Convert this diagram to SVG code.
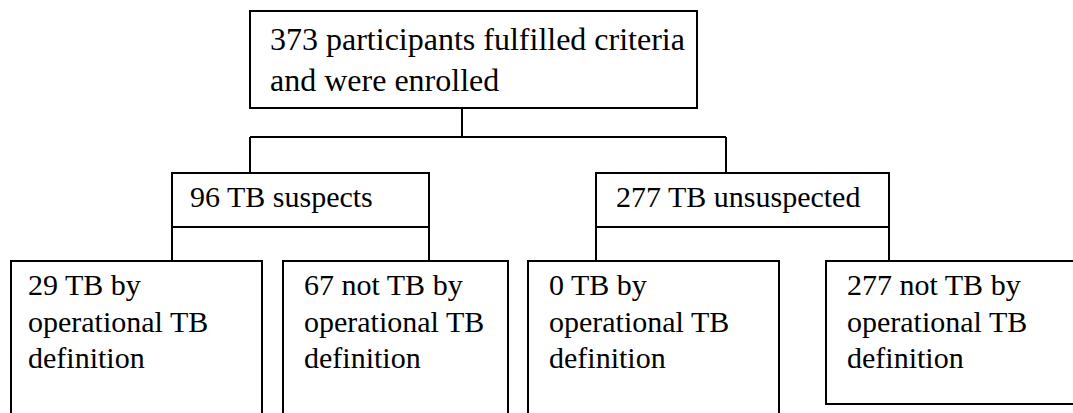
<svg xmlns="http://www.w3.org/2000/svg" width="1073" height="413" viewBox="0 0 1073 413">
<style>
.box{fill:none;stroke:#000;stroke-width:2}
.ln{fill:none;stroke:#000;stroke-width:2}
.t{font-family:"Liberation Serif","Times New Roman",serif;fill:#000;font-size:30px}
.tl{font-family:"Liberation Serif","Times New Roman",serif;fill:#000;font-size:32px}
</style>
<rect width="1073" height="413" fill="#fff"/>
<g id="connectors">
<path class="ln" d="M462,108 V137 M250,137 H726 M250,137 V173 M726,137 V173"/>
<path class="ln" d="M172,227 V261 M429,227 V261 M596,227 V261 M889,227 V261"/>
</g>
<g id="n-enrolled">
<rect class="box" x="250" y="11" width="447" height="97"/>
<text class="tl" x="270" y="50">373 participants fulfilled criteria</text>
<text class="tl" x="270" y="91">and were enrolled</text>
</g>
<g id="n-suspects">
<rect class="box" x="172" y="173" width="257" height="54"/>
<text class="t" x="190" y="207">96 TB suspects</text>
</g>
<g id="n-unsuspected">
<rect class="box" x="596" y="173" width="293" height="54"/>
<text class="t" x="616" y="207">277 TB unsuspected</text>
</g>
<g id="n-tb29">
<rect class="box" x="11" y="261" width="251" height="170"/>
<text class="t" x="28" y="295">29 TB by</text>
<text class="t" x="28" y="332">operational TB</text>
<text class="t" x="28" y="368">definition</text>
</g>
<g id="n-nottb67">
<rect class="box" x="283" y="261" width="225" height="170"/>
<text class="t" x="304" y="295">67 not TB by</text>
<text class="t" x="304" y="332">operational TB</text>
<text class="t" x="304" y="368">definition</text>
</g>
<g id="n-tb0">
<rect class="box" x="528" y="261" width="251" height="170"/>
<text class="t" x="549" y="295">0 TB by</text>
<text class="t" x="549" y="332">operational TB</text>
<text class="t" x="549" y="368">definition</text>
</g>
<g id="n-nottb277">
<rect class="box" x="826" y="261" width="260" height="143"/>
<text class="t" x="847" y="295">277 not TB by</text>
<text class="t" x="847" y="332">operational TB</text>
<text class="t" x="847" y="368">definition</text>
</g>
</svg>
